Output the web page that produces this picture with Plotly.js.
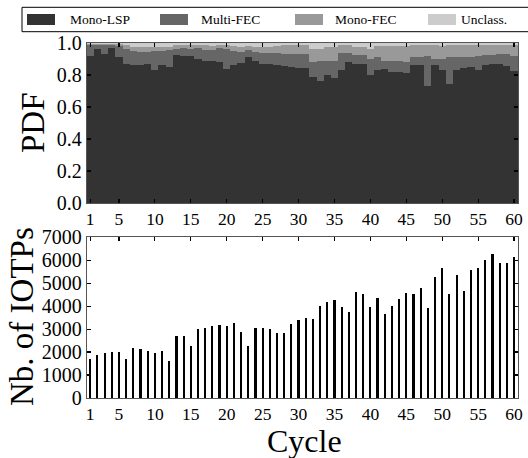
<!DOCTYPE html>
<html>
<head>
<meta charset="utf-8">
<script src="https://cdn.plot.ly/plotly-3.0.1.min.js"></script>
<style>html,body{margin:0;padding:0;background:#fff;}#chart{width:528px;height:458px;}</style>
</head>
<body>
<div id="chart"></div>
<script>
// ---- data ----
var cycles = [];
for (var i = 1; i <= 60; i++) cycles.push(i);

var monoLSP = [0.917,0.960,0.933,0.969,0.915,0.871,0.865,0.865,0.871,0.834,
               0.865,0.850,0.923,0.917,0.920,0.900,0.886,0.886,0.880,0.840,
               0.865,0.875,0.913,0.888,0.867,0.870,0.860,0.855,0.850,0.845,
               0.845,0.788,0.761,0.800,0.784,0.834,0.880,0.870,0.870,0.800,
               0.834,0.840,0.820,0.820,0.813,0.865,0.865,0.730,0.865,0.834,
               0.746,0.834,0.844,0.850,0.830,0.865,0.870,0.870,0.855,0.823];
var multiFEC = [0.068,0.028,0.055,0.021,0.068,0.092,0.085,0.081,0.075,0.116,
                0.085,0.105,0.040,0.050,0.043,0.067,0.071,0.071,0.087,0.123,
                0.085,0.070,0.042,0.057,0.073,0.065,0.075,0.075,0.083,0.088,
                0.088,0.092,0.129,0.090,0.106,0.106,0.060,0.053,0.053,0.100,
                0.079,0.050,0.070,0.070,0.067,0.048,0.048,0.190,0.035,0.066,
                0.167,0.079,0.069,0.063,0.090,0.058,0.053,0.060,0.075,0.097];
var monoFEC = [0.011,0.008,0.008,0.006,0.012,0.027,0.028,0.030,0.030,0.028,
               0.028,0.023,0.022,0.018,0.022,0.021,0.028,0.026,0.018,0.022,
               0.030,0.030,0.025,0.030,0.035,0.040,0.045,0.055,0.052,0.052,
               0.052,0.085,0.075,0.085,0.085,0.045,0.045,0.052,0.052,0.065,
               0.067,0.090,0.090,0.090,0.103,0.072,0.072,0.065,0.085,0.083,
               0.072,0.072,0.072,0.072,0.065,0.062,0.062,0.055,0.055,0.065];
var unclass = [0.004,0.004,0.004,0.004,0.005,0.010,0.022,0.024,0.024,0.022,
               0.022,0.022,0.015,0.015,0.015,0.012,0.015,0.017,0.015,0.015,
               0.020,0.025,0.020,0.025,0.025,0.025,0.020,0.015,0.015,0.015,
               0.015,0.035,0.035,0.025,0.025,0.015,0.015,0.025,0.025,0.035,
               0.020,0.020,0.020,0.020,0.017,0.015,0.015,0.015,0.015,0.017,
               0.015,0.015,0.015,0.015,0.015,0.015,0.015,0.015,0.015,0.015];
var iotps = [1700,1880,1940,1990,2010,1680,2160,2150,2030,1940,
             2060,1620,2710,2710,2280,3010,3030,3130,3190,3120,
             3260,2870,2280,3060,3030,3000,2830,2840,3230,3410,
             3490,3420,3990,4190,4260,3960,3750,4620,4540,3970,
             4360,3640,4000,4300,4580,4520,4810,3900,5280,5670,
             4540,5360,4670,5590,5650,6000,6290,5870,5880,6150];

var seriesNames = ['Mono-LSP','Multi-FEC','Mono-FEC','Unclass.'];
var seriesColors = ['#333333','#666666','#999999','#cccccc'];
var xTickVals = [1,5,10,15,20,25,30,35,40,45,50,55,60];
var pdfTicks = [0,0.2,0.4,0.6,0.8,1.0];
var pdfTickText = ['0.0','0.2','0.4','0.6','0.8','1.0'];
var iotpTicks = [0,1000,2000,3000,4000,5000,6000,7000];
var titlePDF = 'PDF', titleIOTP = 'Nb. of IOTPs', titleCycle = 'Cycle';

// ---- layout geometry ----
var W = 528, H = 458;
var M = {l: 87, r: 10, t: 43, b: 60};
var pw = W - M.l - M.r, ph = H - M.t - M.b;
function px(x) { return (x - M.l) / pw; }
function py(y) { return (H - M.b - y) / ph; }

var serif = 'Liberation Serif, DejaVu Serif, serif';

var stackData = [monoLSP, multiFEC, monoFEC, unclass];
var traces = stackData.map(function (vals, k) {
  return {
    type: 'bar', x: cycles, y: vals, name: seriesNames[k],
    marker: {color: seriesColors[k], line: {width: 0}},
    width: 1, xaxis: 'x', yaxis: 'y', showlegend: false, hoverinfo: 'skip'
  };
});
traces.push({
  type: 'bar', x: cycles, y: iotps, name: 'IOTPs',
  marker: {color: '#000000', line: {width: 0}},
  width: 0.3, xaxis: 'x2', yaxis: 'y2', showlegend: false, hoverinfo: 'skip'
});

var axCommon = {
  showgrid: false, zeroline: false, showline: true, linecolor: '#555', linewidth: 1.2,
  mirror: 'ticks', ticks: 'inside', ticklen: 4, tickwidth: 1.2, tickcolor: '#000',
  tickfont: {family: serif, size: 17.5, color: '#000'}
};
function ax(extra) { var o = {}; for (var k in axCommon) o[k] = axCommon[k]; for (var k2 in extra) o[k2] = extra[k2]; return o; }

// legend built from shapes + annotations
var shapes = [{
  type: 'rect', xref: 'paper', yref: 'paper',
  x0: px(22), x1: px(540), y0: py(31.7), y1: py(7.3),
  line: {color: '#000', width: 1}, fillcolor: 'rgba(255,255,255,0)'
}];
var annotations = [];
var swX = [27, 160, 295, 428];
var txX = [68, 199, 333, 459];
for (var s = 0; s < 4; s++) {
  shapes.push({
    type: 'rect', xref: 'paper', yref: 'paper',
    x0: px(swX[s]), x1: px(swX[s] + 28), y0: py(25), y1: py(14),
    line: {width: 0}, fillcolor: seriesColors[s]
  });
  annotations.push({
    xref: 'paper', yref: 'paper', x: px(txX[s]), y: py(19.5),
    xanchor: 'left', yanchor: 'middle', showarrow: false,
    text: seriesNames[s], font: {family: serif, size: 13.5, color: '#000'}
  });
}
// axis titles
annotations.push({xref: 'paper', yref: 'paper', x: px(33), y: py(123), xanchor: 'center', yanchor: 'middle',
  textangle: -90, showarrow: false, text: titlePDF, font: {family: serif, size: 33, color: '#000'}});
annotations.push({xref: 'paper', yref: 'paper', x: px(22), y: py(317), xanchor: 'center', yanchor: 'middle',
  textangle: -90, showarrow: false, text: titleIOTP, font: {family: serif, size: 33, color: '#000'}});
annotations.push({xref: 'paper', yref: 'paper', x: px(304), y: py(441), xanchor: 'center', yanchor: 'middle',
  showarrow: false, borderpad: 0, text: titleCycle, font: {family: serif, size: 32, color: '#000'}});

var layout = {
  width: W, height: H, margin: M,
  paper_bgcolor: '#fff', plot_bgcolor: '#fff',
  barmode: 'stack', bargap: 0,
  xaxis: ax({domain: [0, 1], range: [0.55, 60.55], tickvals: xTickVals, anchor: 'y'}),
  yaxis: ax({domain: [py(203), 1], range: [0, 1.0], tickvals: pdfTicks, ticktext: pdfTickText, anchor: 'x',
             tickfont: {family: serif, size: 20, color: '#000'}}),
  xaxis2: ax({domain: [0, 1], range: [0.55, 60.55], tickvals: xTickVals, anchor: 'y2'}),
  yaxis2: ax({domain: [0, py(237.3)], range: [0, 7000], tickvals: iotpTicks, anchor: 'x2',
              tickfont: {family: serif, size: 20, color: '#000'}}),
  shapes: shapes, annotations: annotations
};

Plotly.newPlot('chart', traces, layout, {staticPlot: true, displayModeBar: false});
</script>
</body>
</html>
